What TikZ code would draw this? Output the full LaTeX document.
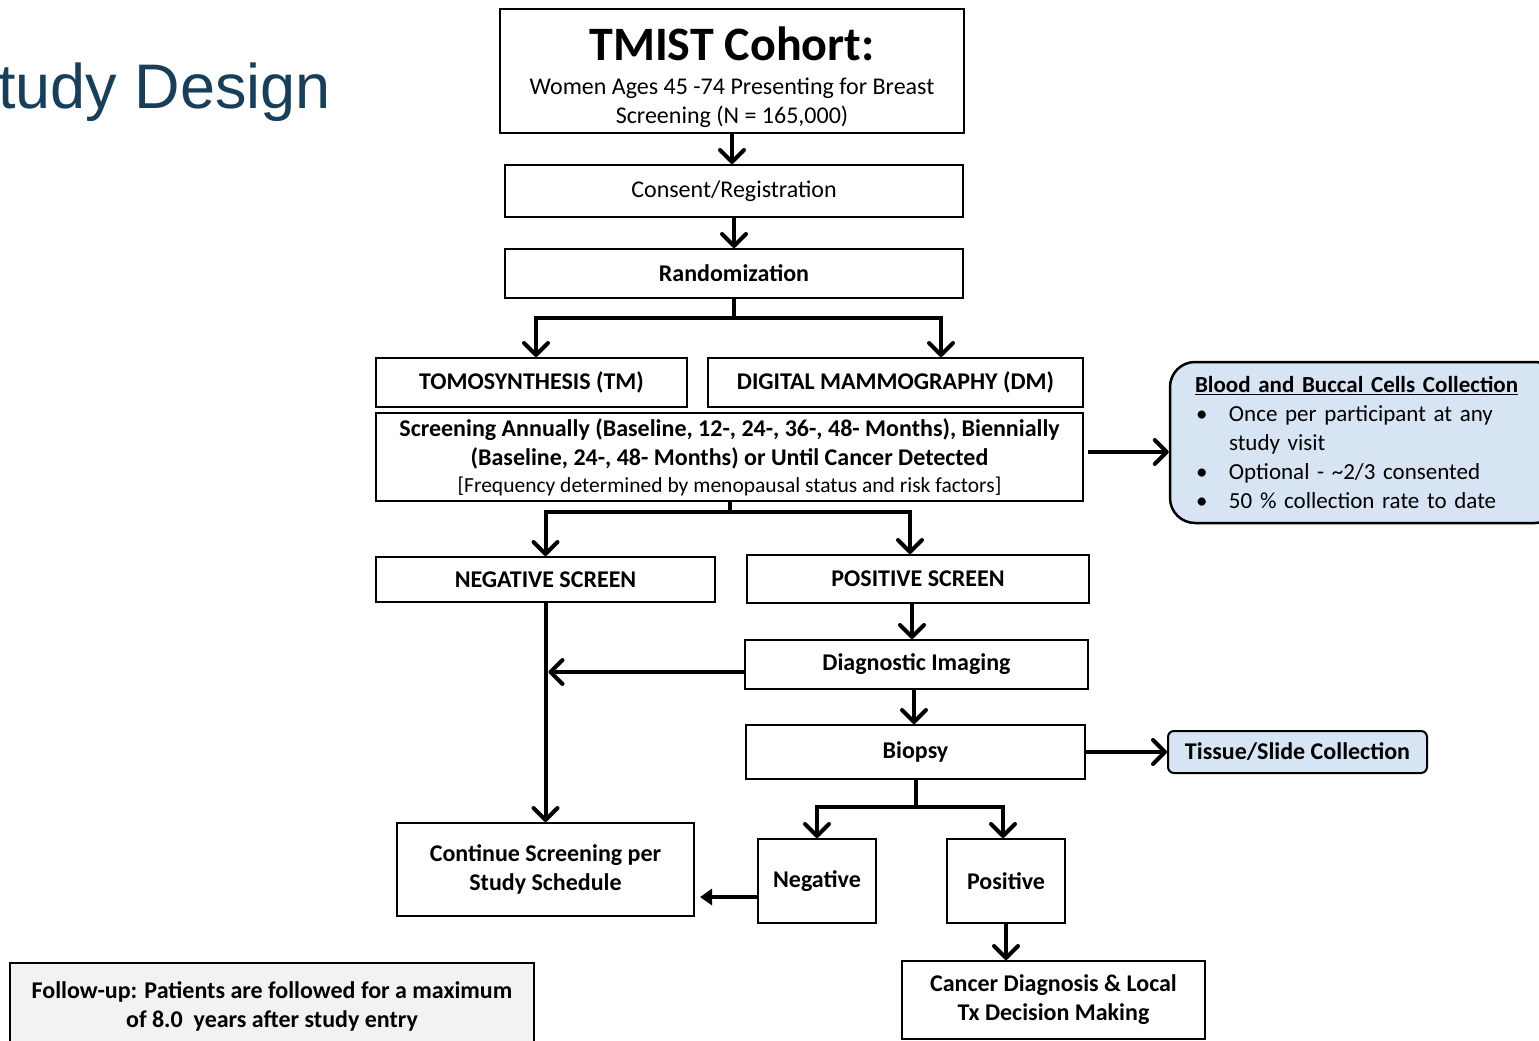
\documentclass[tikz,border=0pt]{standalone}
\usepackage{fontspec}
\setmainfont{Carlito}
\newfontfamily\titlefont{Liberation Sans}
\usetikzlibrary{arrows.meta,calc}
\definecolor{titleblue}{RGB}{23,63,92}
\definecolor{lblue}{RGB}{214,228,243}
\definecolor{lgray}{RGB}{242,242,242}
\begin{document}
\begin{tikzpicture}[x=1pt,y=-1pt,
  box/.style={draw=black,line width=2pt,fill=white,inner sep=0pt,align=center,font=\fontsize{24}{29}\selectfont},
  bbox/.style={box,font=\bfseries\fontsize{24}{29}\selectfont},
  ln/.style={line width=4pt},
  arr/.style={ln,-{Straight Barb[length=12pt,width=24pt,line cap=round,line join=round]}},
  tri/.style={ln,-{Triangle[length=12pt,width=16pt]}}
]
\useasboundingbox (0,0) rectangle (1539,1041);

\node[anchor=base west,font=\titlefont\fontsize{63}{63}\selectfont,text=titleblue,inner sep=0pt] (title) at (-2,108) {tudy Design};

\node[box,minimum width=464pt,minimum height=124pt] (cohort) at (732,71) {};
\node[align=center,inner sep=0pt,font=\fontsize{24}{29}\selectfont] (cohorttext) at ([yshift=-6pt]cohort.center)
  {{\bfseries\fontsize{48}{48}\selectfont TMIST Cohort:}\\[5pt]
   Women Ages 45 -74 Presenting for Breast\\
   Screening (N = 165,000)};
\node[box,minimum width=458pt,minimum height=52pt] (consent) at (734,191) {Consent/Registration};
\node[bbox,minimum width=458pt,minimum height=49pt] (rand) at (734,273.5) {Randomization};
\node[bbox,minimum width=311pt,minimum height=49pt] (tm) at (531.5,382.5) {TOMOSYNTHESIS (TM)};
\node[bbox,minimum width=375pt,minimum height=49pt] (dm) at (895.5,382.5) {DIGITAL MAMMOGRAPHY (DM)};
\node[box,minimum width=707pt,minimum height=88pt] (screen) at (729.5,457)
  {{\bfseries Screening Annually (Baseline, 12-, 24-, 36-, 48- Months), Biennially}\\
   {\bfseries (Baseline, 24-, 48- Months) or Until Cancer Detected}\\[-2pt]
   {\fontsize{21.5}{24}\selectfont [Frequency determined by menopausal status and risk factors]}};
\node[draw=black,line width=2.5pt,fill=lblue,rounded corners=25pt,minimum width=390pt,minimum height=161pt,
      inner xsep=25pt,inner ysep=0pt,text width=340pt,align=left,font=\fontsize{23}{29}\selectfont] (blood) at (1365,442.5)
  {\textbf{\underline{Blood and Buccal Cells Collection}}\\
   \makebox[34pt][l]{\hspace{1pt}\textbullet}Once per participant at any\\
   \hspace*{34pt}study visit\\
   \makebox[34pt][l]{\hspace{1pt}\textbullet}Optional - \textasciitilde2/3 consented\\
   \makebox[34pt][l]{\hspace{1pt}\textbullet}50 \% collection rate to date};
\node[bbox,minimum width=339pt,minimum height=45pt] (neg) at (545.5,579.5) {NEGATIVE SCREEN};
\node[bbox,minimum width=342pt,minimum height=48pt] (pos) at (918,579) {POSITIVE SCREEN};
\node[bbox,minimum width=343pt,minimum height=49pt] (diag) at (916.5,664.5) {Diagnostic Imaging};
\node[bbox,minimum width=339pt,minimum height=54pt] (biopsy) at (915.5,752) {Biopsy};
\node[bbox,fill=lblue,rounded corners=6pt,minimum width=259pt,minimum height=42pt] (tissue) at (1297.5,752) {Tissue/Slide Collection};
\node[bbox,minimum width=297pt,minimum height=93pt] (cont) at (545.5,869.5) {Continue Screening per\\Study Schedule};
\node[bbox,minimum width=118pt,minimum height=84pt] (negb) at (817,881) {Negative};
\node[bbox,minimum width=118pt,minimum height=84pt] (posb) at (1006,881) {Positive};
\node[bbox,minimum width=303pt,minimum height=78pt] (cancer) at (1053.5,1000) {Cancer Diagnosis \& Local\\Tx Decision Making};
\node[bbox,fill=lgray,minimum width=524pt,minimum height=86pt] (follow) at (272,1006) {Follow-up: Patients are followed for a maximum\\of 8.0\ \ years after study entry};

% connectors
\draw[arr] (cohort.south) -- (cohort.south |- consent.north);
\draw[arr] (consent.south) -- (consent.south |- rand.north);
\coordinate (j1) at (735,318);
\draw[ln] (rand.south) -- (rand.south |- j1);
\draw[arr] (j1) -| ([xshift=4.5pt]tm.north);
\draw[arr] (j1) -| ([xshift=45.5pt]dm.north);
\coordinate (j2) at (730,512);
\draw[ln] (screen.south) -- (screen.south |- j2);
\draw[arr] (j2) -| (neg.north);
\draw[arr] (j2) -| ([xshift=-8pt]pos.north);
\draw[arr] ([xshift=4pt,yshift=5pt]screen.east) -- ([yshift=5pt]screen.east -| blood.west);
\draw[arr] (neg.south) -- (neg.south |- cont.north);
\draw[arr] ([yshift=-7.5pt]diag.west) -- ([xshift=3pt,yshift=-7.5pt]diag.west -| neg.south);
\draw[arr] ([xshift=-6pt]pos.south) -- ([xshift=-6pt]pos.south |- diag.north);
\draw[arr] ([xshift=-2.5pt]diag.south) -- ([xshift=-2.5pt]diag.south |- biopsy.north);
\draw[arr] (biopsy.east) -- (tissue.west);
\coordinate (j3) at (914,807);
\draw[ln] (biopsy.south) -- (biopsy.south |- j3);
\draw[arr] (j3) -| (negb.north);
\draw[arr] (j3) -| ([xshift=-3pt]posb.north);
\draw[tri] ([yshift=-16pt]negb.west) -- ([xshift=5pt,yshift=-16pt]negb.west -| cont.east);
\draw[arr] (posb.south) -- (posb.south |- cancer.north);
\end{tikzpicture}
\end{document}
